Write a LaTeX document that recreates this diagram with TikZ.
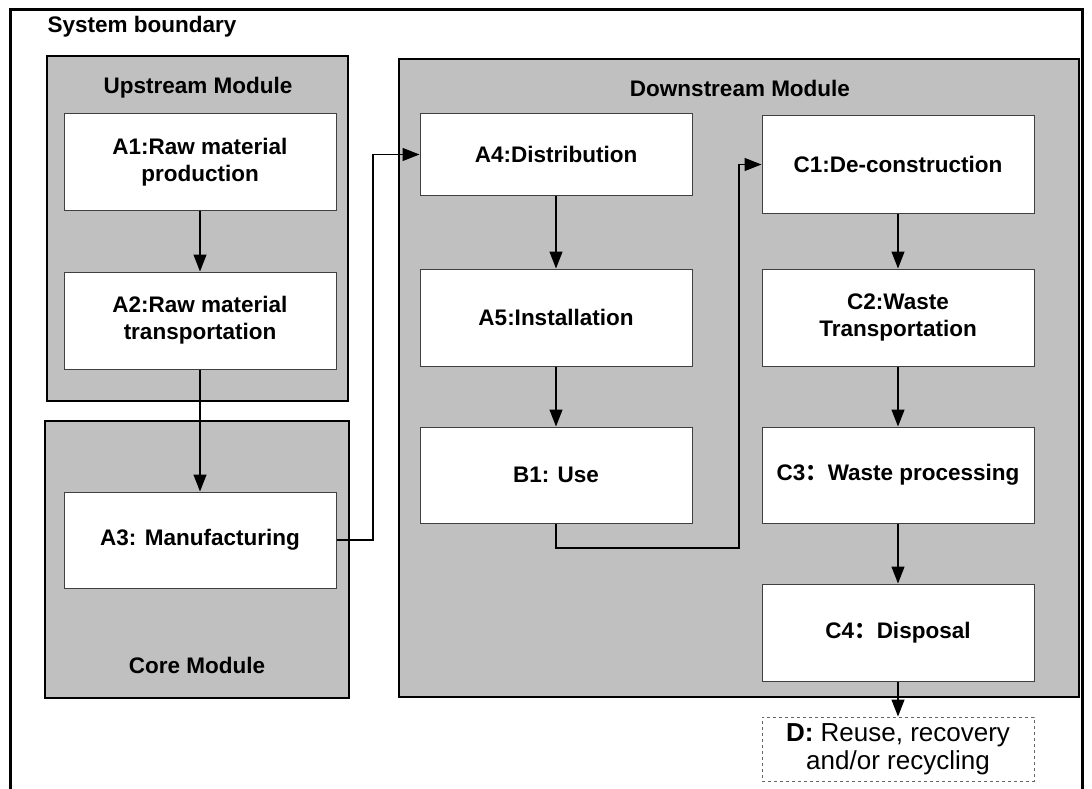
\documentclass[tikz,border=0pt]{standalone}
\usepackage{fontspec}
\setmainfont{Liberation Sans}
\newfontfamily\cjk{Noto Sans CJK SC}
\usetikzlibrary{arrows.meta}
\definecolor{modgray}{RGB}{192,192,192}
\tikzset{
  module/.style={draw=black, line width=1.5pt, fill=modgray},
  title/.style={font=\bfseries\fontsize{22.5}{27}\selectfont},
  stage/.style={draw=black!75, line width=1pt, fill=white, minimum width=272pt,
    inner sep=0pt, align=center, font=\bfseries\fontsize{22.5}{27}\selectfont},
  outside/.style={draw=black!60, dashed, line width=1pt, fill=white, minimum width=272pt,
    minimum height=64pt, inner sep=0pt, align=center, font=\fontsize{26}{28.5}\selectfont},
  flow/.style={-{Triangle[length=17pt,width=13pt]}, line width=1.3pt},
}
\begin{document}
\begin{tikzpicture}[x=1pt, y=-1pt]
    \useasboundingbox (0, 0) rectangle (1092, 789);
    % system boundary, open at the bottom
    \draw[line width=3pt] (10, 789) -- (10, 10) -- (1082, 10) -- (1082, 789);
    \node[title, anchor=west] (sysb) at (44, 27) {System boundary};
    % modules
    \draw[module] (47, 56) rectangle (348, 401);
    \draw[module] (45, 421) rectangle (349, 698);
    \draw[module] (399, 59) rectangle (1079, 697);
    \node[title] (upt) at (198, 88) {Upstream Module};
    \node[title] (coret) at (197, 665) {Core Module};
    \node[title] (downt) at (740, 88) {Downstream Module};
    % stages
    \node[stage, minimum height=96pt] (a1) at (200, 162) {A1:Raw material\\production};
    \node[stage, minimum height=97pt] (a2) at (200, 320.5) {A2:Raw material\\transportation};
    \node[stage, minimum height=96pt] (a3) at (200, 540) {A3: Manufacturing};
    \node[stage, minimum height=81pt] (a4) at (556, 154.5) {A4:Distribution};
    \node[stage, minimum height=97pt] (a5) at (556, 317.5) {A5:Installation};
    \node[stage, minimum height=96pt] (b1) at (556, 475) {B1: Use};
    \node[stage, minimum height=97pt] (c1) at (898, 164.5) {C1:De-construction};
    \node[stage, minimum height=97pt] (c2) at (898, 317.5) {C2:Waste\\Transportation};
    \node[stage, minimum height=96pt] (c3) at (898, 475) {C3{\cjk ：}Waste processing};
    \node[stage, minimum height=97pt] (c4) at (898, 632.5) {C4{\cjk ：}Disposal};
    \node[outside] (d) at (898, 749) {\textbf{D:} Reuse, recovery\\and/or recycling};
    % connectors
    \coordinate (bendA) at (373, 540);
    \coordinate (bendB) at (739, 548);
    \draw[flow] (a1) -- (a2);
    \draw[flow] (a2) -- (a3);
    \draw[flow] (a3.east) -- (bendA) |- (a4.west);
    \draw[flow] (a4) -- (a5);
    \draw[flow] (a5) -- (b1);
    \draw[flow] (b1.south) |- (bendB) |- (c1.west);
    \draw[flow] (c1) -- (c2);
    \draw[flow] (c2) -- (c3);
    \draw[flow] (c3) -- (c4);
    \draw[flow] (c4) -- (d);
\end{tikzpicture}
\end{document}
